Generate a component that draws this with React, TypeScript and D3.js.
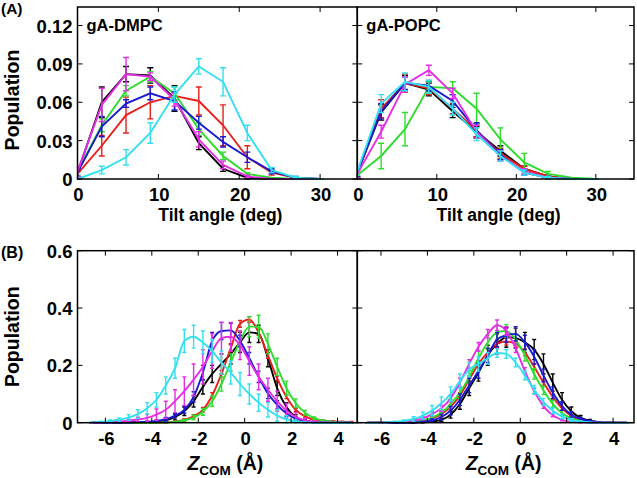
import React from "react";
import * as d3 from "d3";

// ---------- Data ----------
const tiltX = [0, 3, 6, 9, 12, 15, 18, 21, 24, 27, 30];

const dmpcTiltBlack = [0.005, 0.060, 0.082, 0.081, 0.063, 0.028, 0.008, 0.001, 0, 0, 0];
const dmpcTiltBlackErr = [0.003, 0.012, 0.006, 0.006, 0.010, 0.005, 0.002, 0.001, 0, 0, 0];
const dmpcTiltRed = [0.004, 0.026, 0.050, 0.060, 0.065, 0.061, 0.042, 0.017, 0.005, 0.001, 0];
const dmpcTiltRedErr = [0.002, 0.008, 0.014, 0.013, 0.003, 0.011, 0.016, 0.009, 0.002, 0, 0];
const dmpcTiltGreen = [0.006, 0.042, 0.069, 0.080, 0.067, 0.039, 0.018, 0.004, 0.001, 0, 0];
const dmpcTiltGreenErr = [0.003, 0.005, 0.004, 0.004, 0.005, 0.005, 0.003, 0.001, 0, 0, 0];
const dmpcTiltBlue = [0.005, 0.041, 0.059, 0.067, 0.061, 0.044, 0.029, 0.017, 0.006, 0.001, 0];
const dmpcTiltBlueErr = [0.003, 0.008, 0.003, 0.005, 0.007, 0.005, 0.004, 0.004, 0.002, 0.001, 0];
const dmpcTiltMagenta = [0.006, 0.058, 0.082, 0.080, 0.062, 0.031, 0.011, 0.002, 0, 0, 0];
const dmpcTiltMagentaErr = [0.004, 0.013, 0.013, 0.003, 0.005, 0.006, 0.003, 0.001, 0, 0, 0];
const dmpcTiltCyan = [0, 0.007, 0.017, 0.036, 0.066, 0.088, 0.076, 0.036, 0.007, 0.001, 0];
const dmpcTiltCyanErr = [0.001, 0.003, 0.006, 0.008, 0.006, 0.006, 0.011, 0.006, 0.002, 0.001, 0];

const popcTiltBlack = [0.005, 0.052, 0.075, 0.070, 0.053, 0.037, 0.022, 0.008, 0.002, 0, 0];
const popcTiltBlackErr = [0.003, 0.006, 0.006, 0.005, 0.005, 0.004, 0.004, 0.002, 0.001, 0, 0];
const popcTiltRed = [0.004, 0.055, 0.075, 0.071, 0.055, 0.038, 0.020, 0.008, 0.002, 0, 0];
const popcTiltRedErr = [0.003, 0.007, 0.007, 0.005, 0.004, 0.005, 0.004, 0.002, 0.001, 0, 0];
const popcTiltGreen = [0.003, 0.018, 0.039, 0.072, 0.071, 0.055, 0.031, 0.013, 0.004, 0.001, 0];
const popcTiltGreenErr = [0.002, 0.010, 0.013, 0.004, 0.005, 0.012, 0.009, 0.007, 0.002, 0, 0];
const popcTiltBlue = [0.005, 0.053, 0.075, 0.073, 0.061, 0.038, 0.019, 0.005, 0.001, 0, 0];
const popcTiltBlueErr = [0.003, 0.006, 0.005, 0.004, 0.005, 0.006, 0.004, 0.002, 0.001, 0, 0];
const popcTiltMagenta = [0.004, 0.037, 0.074, 0.085, 0.067, 0.037, 0.018, 0.006, 0.001, 0, 0];
const popcTiltMagentaErr = [0.003, 0.005, 0.006, 0.004, 0.004, 0.005, 0.004, 0.002, 0.001, 0, 0];
const popcTiltCyan = [0.006, 0.059, 0.076, 0.072, 0.055, 0.035, 0.018, 0.005, 0.001, 0, 0];
const popcTiltCyanErr = [0.003, 0.007, 0.007, 0.005, 0.005, 0.005, 0.004, 0.002, 0.001, 0, 0];

const zX = [-6.6, -6.2, -5.8, -5.4, -5.0, -4.6, -4.2, -3.8, -3.4, -3.0, -2.6, -2.2, -1.8, -1.4, -1.0,
  -0.6, -0.2, 0.2, 0.6, 1.0, 1.4, 1.8, 2.2, 2.6, 3.0, 3.4, 3.8, 4.2, 4.6];

const dmpcZBlack = [0, 0, 0, 0, 0, 0, 0.001, 0.003, 0.008, 0.020, 0.040, 0.075, 0.125, 0.170, 0.205, 0.240, 0.280, 0.315, 0.310, 0.225, 0.120, 0.055, 0.020, 0.007, 0.002, 0, 0, 0, 0];
const dmpcZBlackErr = [0, 0, 0, 0, 0, 0, 0.001, 0.002, 0.005, 0.010, 0.015, 0.020, 0.025, 0.030, 0.035, 0.035, 0.035, 0.035, 0.030, 0.030, 0.025, 0.015, 0.008, 0.004, 0.002, 0, 0, 0, 0];
const dmpcZRed = [0, 0, 0, 0, 0, 0, 0, 0, 0.001, 0.004, 0.010, 0.022, 0.045, 0.095, 0.170, 0.260, 0.345, 0.360, 0.315, 0.235, 0.155, 0.090, 0.045, 0.022, 0.010, 0.006, 0.004, 0.003, 0.002];
const dmpcZRedErr = [0, 0, 0, 0, 0, 0, 0, 0, 0.001, 0.002, 0.004, 0.006, 0.008, 0.010, 0.012, 0.012, 0.012, 0.010, 0.010, 0.010, 0.008, 0.006, 0.005, 0.004, 0.004, 0.003, 0.003, 0.002, 0.002];
const dmpcZGreen = [0, 0, 0, 0, 0, 0, 0, 0, 0.001, 0.003, 0.008, 0.018, 0.038, 0.075, 0.135, 0.210, 0.285, 0.335, 0.335, 0.275, 0.195, 0.120, 0.068, 0.035, 0.016, 0.007, 0.003, 0.001, 0];
const dmpcZGreenErr = [0, 0, 0, 0, 0, 0, 0, 0, 0.001, 0.002, 0.004, 0.008, 0.012, 0.018, 0.025, 0.030, 0.035, 0.035, 0.040, 0.035, 0.030, 0.025, 0.015, 0.008, 0.004, 0.002, 0.001, 0, 0];
const dmpcZBlue = [0, 0, 0, 0, 0.001, 0.002, 0.003, 0.006, 0.012, 0.025, 0.045, 0.090, 0.175, 0.285, 0.320, 0.322, 0.285, 0.225, 0.160, 0.102, 0.062, 0.032, 0.014, 0.006, 0.002, 0.001, 0, 0, 0];
const dmpcZBlueErr = [0, 0, 0, 0, 0.001, 0.001, 0.002, 0.004, 0.006, 0.008, 0.012, 0.018, 0.025, 0.030, 0.030, 0.025, 0.020, 0.020, 0.020, 0.018, 0.015, 0.010, 0.006, 0.003, 0.002, 0.001, 0, 0, 0];
const dmpcZMagenta = [0, 0.001, 0.002, 0.004, 0.007, 0.011, 0.017, 0.028, 0.045, 0.075, 0.110, 0.150, 0.195, 0.250, 0.295, 0.300, 0.270, 0.215, 0.160, 0.115, 0.075, 0.042, 0.020, 0.008, 0.003, 0.001, 0, 0, 0];
const dmpcZMagentaErr = [0, 0.001, 0.002, 0.003, 0.005, 0.008, 0.012, 0.020, 0.030, 0.040, 0.050, 0.055, 0.060, 0.060, 0.055, 0.050, 0.050, 0.050, 0.045, 0.040, 0.035, 0.025, 0.015, 0.008, 0.004, 0.001, 0, 0, 0];
const dmpcZCyan = [0.001, 0.003, 0.006, 0.011, 0.018, 0.030, 0.050, 0.080, 0.130, 0.190, 0.285, 0.300, 0.280, 0.250, 0.210, 0.175, 0.135, 0.100, 0.070, 0.045, 0.025, 0.012, 0.004, 0.001, 0, 0, 0, 0, 0];
const dmpcZCyanErr = [0.001, 0.002, 0.004, 0.006, 0.010, 0.015, 0.020, 0.025, 0.030, 0.035, 0.040, 0.040, 0.040, 0.040, 0.040, 0.040, 0.040, 0.035, 0.030, 0.025, 0.020, 0.012, 0.006, 0.002, 0, 0, 0, 0, 0];

const popcZBlack = [0, 0, 0, 0, 0, 0, 0.001, 0.004, 0.010, 0.028, 0.065, 0.120, 0.175, 0.235, 0.275, 0.298, 0.295, 0.280, 0.255, 0.205, 0.140, 0.080, 0.040, 0.017, 0.007, 0.002, 0, 0, 0];
const popcZBlackErr = [0, 0, 0, 0, 0, 0, 0.001, 0.003, 0.006, 0.012, 0.018, 0.025, 0.030, 0.035, 0.035, 0.035, 0.035, 0.035, 0.035, 0.035, 0.030, 0.025, 0.015, 0.008, 0.004, 0.001, 0, 0, 0];
const popcZRed = [0, 0, 0, 0, 0.001, 0.003, 0.007, 0.015, 0.030, 0.055, 0.095, 0.150, 0.205, 0.245, 0.275, 0.283, 0.275, 0.245, 0.195, 0.140, 0.090, 0.050, 0.024, 0.010, 0.004, 0.001, 0, 0, 0];
const popcZRedErr = [0, 0, 0, 0, 0.001, 0.002, 0.003, 0.005, 0.007, 0.009, 0.010, 0.012, 0.012, 0.012, 0.012, 0.012, 0.012, 0.012, 0.010, 0.010, 0.008, 0.006, 0.004, 0.003, 0.002, 0.001, 0, 0, 0];
const popcZGreen = [0, 0, 0, 0, 0.001, 0.003, 0.008, 0.018, 0.035, 0.065, 0.105, 0.160, 0.225, 0.280, 0.315, 0.320, 0.290, 0.235, 0.170, 0.113, 0.066, 0.034, 0.015, 0.006, 0.002, 0, 0, 0, 0];
const popcZGreenErr = [0, 0, 0, 0, 0.001, 0.002, 0.004, 0.008, 0.012, 0.016, 0.020, 0.022, 0.025, 0.025, 0.025, 0.022, 0.020, 0.020, 0.018, 0.015, 0.012, 0.008, 0.005, 0.003, 0.001, 0, 0, 0, 0];
const popcZBlue = [0, 0, 0, 0, 0, 0.001, 0.003, 0.008, 0.020, 0.042, 0.080, 0.130, 0.180, 0.235, 0.290, 0.305, 0.310, 0.280, 0.230, 0.165, 0.105, 0.058, 0.028, 0.013, 0.006, 0.002, 0.001, 0, 0];
const popcZBlueErr = [0, 0, 0, 0, 0, 0.001, 0.002, 0.005, 0.010, 0.015, 0.020, 0.025, 0.025, 0.025, 0.025, 0.025, 0.025, 0.025, 0.025, 0.022, 0.020, 0.015, 0.010, 0.005, 0.003, 0.001, 0.001, 0, 0];
const popcZMagenta = [0, 0, 0, 0.002, 0.004, 0.008, 0.015, 0.030, 0.050, 0.085, 0.140, 0.205, 0.265, 0.310, 0.340, 0.320, 0.260, 0.180, 0.110, 0.058, 0.026, 0.010, 0.003, 0.001, 0, 0, 0, 0, 0];
const popcZMagentaErr = [0, 0, 0, 0.001, 0.002, 0.003, 0.005, 0.008, 0.010, 0.012, 0.015, 0.015, 0.015, 0.015, 0.018, 0.015, 0.015, 0.012, 0.010, 0.008, 0.005, 0.003, 0.002, 0.001, 0, 0, 0, 0, 0];
const popcZCyan = [0, 0, 0.001, 0.003, 0.006, 0.013, 0.025, 0.042, 0.068, 0.100, 0.145, 0.185, 0.205, 0.225, 0.243, 0.240, 0.210, 0.165, 0.115, 0.073, 0.042, 0.022, 0.010, 0.004, 0.001, 0, 0, 0, 0];
const popcZCyanErr = [0, 0, 0.001, 0.002, 0.004, 0.008, 0.012, 0.018, 0.022, 0.025, 0.025, 0.025, 0.025, 0.020, 0.015, 0.015, 0.015, 0.015, 0.015, 0.012, 0.010, 0.008, 0.005, 0.002, 0.001, 0, 0, 0, 0];

const seriesColors = ["#000000", "#e8201c", "#2edc2e", "#1a1ad0", "#e52ee5", "#33e0f0"];

const tiltTicks = [0, 10, 20, 30];
const tiltYTicks = [0, 0.03, 0.06, 0.09, 0.12];
const tiltYLabels = ["0", "0.03", "0.06", "0.09", "0.12"];
const zTicks = [-6, -4, -2, 0, 2, 4];
const zYTicks = [0, 0.2, 0.4, 0.6];
const zYLabels = ["0", "0.2", "0.4", "0.6"];

type Series = { y: number[]; e: number[] };

const FONT = "'Liberation Sans', Arial, Helvetica, sans-serif";

function Panel(props: {
  x0: number; x1: number; y0: number; y1: number;
  xDomain: [number, number]; yDomain: [number, number];
  xs: number[]; series: Series[]; smooth: boolean;
  xTicks: number[]; yTicks: number[]; yLabels: string[] | null;
  title?: string; cap: number; lw: number;
}) {
  const { x0, x1, y0, y1, xDomain, yDomain, xs, series, smooth, xTicks, yTicks, yLabels, title, cap, lw } = props;
  const xs_ = d3.scaleLinear().domain(xDomain).range([x0, x1]);
  const ys_ = d3.scaleLinear().domain(yDomain).range([y1, y0]);
  const line = d3.line<number>()
    .x((_, i) => xs_(xs[i]))
    .y((v) => ys_(v))
    .curve(smooth ? d3.curveMonotoneX : d3.curveLinear);
  const tl = 5;
  const clipId = `clip-${Math.round(x0)}-${Math.round(y0)}`;
  return (
    <g>
      <defs>
        <clipPath id={clipId}>
          <rect x={x0} y={y0} width={x1 - x0} height={y1 - y0 + 2} />
        </clipPath>
      </defs>
      <g clipPath={`url(#${clipId})`}>
        {series.map((s, si) => (
          <g key={si}>
            <path d={line(s.y) || ""} fill="none" stroke={seriesColors[si]} strokeWidth={lw} />
            {s.y.map((v, i) => {
              const e = s.e[i];
              const cx = xs_(xs[i]);
              const ya = ys_(v + e);
              const yb = ys_(Math.max(0, v - e));
              return (
                <g key={i} stroke={seriesColors[si]} strokeWidth={1.4}>
                  <line x1={cx} x2={cx} y1={ya} y2={yb} />
                  <line x1={cx - cap} x2={cx + cap} y1={ya} y2={ya} />
                  <line x1={cx - cap} x2={cx + cap} y1={yb} y2={yb} />
                </g>
              );
            })}
          </g>
        ))}
      </g>
      {/* ticks */}
      <g stroke="#000" strokeWidth={1}>
        {xTicks.map((t) => (
          <g key={"xt" + t}>
            <line x1={xs_(t)} x2={xs_(t)} y1={y1} y2={y1 - tl} />
            <line x1={xs_(t)} x2={xs_(t)} y1={y0} y2={y0 + tl} />
          </g>
        ))}
        {yTicks.map((t) => (
          <g key={"yt" + t}>
            <line x1={x0} x2={x0 + tl} y1={ys_(t)} y2={ys_(t)} />
            <line x1={x1} x2={x1 - tl} y1={ys_(t)} y2={ys_(t)} />
          </g>
        ))}
      </g>
      <rect x={x0} y={y0} width={x1 - x0} height={y1 - y0} fill="none" stroke="#000" strokeWidth={1.5} />
      {/* tick labels */}
      <g fontFamily={FONT} fontWeight="bold" fontSize={18.5} fill="#000">
        {xTicks.map((t) => (
          <text key={"xl" + t} x={xs_(t) + 1} y={y1 + 22} textAnchor="middle">{t < 0 ? "-" + Math.abs(t) : String(t)}</text>
        ))}
        {yLabels && yTicks.map((t, i) => (
          <text key={"yl" + t} x={x0 - 5} y={ys_(t) + 7} textAnchor="end">{yLabels[i]}</text>
        ))}
      </g>
      {title && (
        <text x={x0 + 9} y={y0 + 24} fontFamily={FONT} fontWeight="bold" fontSize={16.5} fill="#000">{title}</text>
      )}
    </g>
  );
}

export default function App() {
  const L = 77.5, M = 357.3, R = 634;
  const tT = 7, tB = 179, bT = 250.7, bB = 422.7;
  const tiltDMPC: Series[] = [
    { y: dmpcTiltBlack, e: dmpcTiltBlackErr },
    { y: dmpcTiltRed, e: dmpcTiltRedErr },
    { y: dmpcTiltGreen, e: dmpcTiltGreenErr },
    { y: dmpcTiltBlue, e: dmpcTiltBlueErr },
    { y: dmpcTiltMagenta, e: dmpcTiltMagentaErr },
    { y: dmpcTiltCyan, e: dmpcTiltCyanErr },
  ];
  const tiltPOPC: Series[] = [
    { y: popcTiltBlack, e: popcTiltBlackErr },
    { y: popcTiltRed, e: popcTiltRedErr },
    { y: popcTiltGreen, e: popcTiltGreenErr },
    { y: popcTiltBlue, e: popcTiltBlueErr },
    { y: popcTiltMagenta, e: popcTiltMagentaErr },
    { y: popcTiltCyan, e: popcTiltCyanErr },
  ];
  const zDMPC: Series[] = [
    { y: dmpcZBlack, e: dmpcZBlackErr },
    { y: dmpcZRed, e: dmpcZRedErr },
    { y: dmpcZGreen, e: dmpcZGreenErr },
    { y: dmpcZBlue, e: dmpcZBlueErr },
    { y: dmpcZMagenta, e: dmpcZMagentaErr },
    { y: dmpcZCyan, e: dmpcZCyanErr },
  ];
  const zPOPC: Series[] = [
    { y: popcZBlack, e: popcZBlackErr },
    { y: popcZRed, e: popcZRedErr },
    { y: popcZGreen, e: popcZGreenErr },
    { y: popcZBlue, e: popcZBlueErr },
    { y: popcZMagenta, e: popcZMagentaErr },
    { y: popcZCyan, e: popcZCyanErr },
  ];
  const zTitle = (cx: number) => (
    <text x={cx} y={470} textAnchor="middle" fontFamily={FONT} fontWeight="bold" fontSize={19.5} fill="#000">
      <tspan fontStyle="italic">Z</tspan>
      <tspan fontSize={13.5} dy={5}>COM</tspan>
      <tspan dy={-5}> (Å)</tspan>
    </text>
  );
  return (
    <svg width={637} height={478} style={{ position: "absolute", left: 0, top: 0, background: "#fff" }}>
      <rect x={0} y={0} width={637} height={478} fill="#fff" />
      <Panel x0={L} x1={M} y0={tT} y1={tB} xDomain={[0, 34.6]} yDomain={[0, 0.1345]}
        xs={tiltX} series={tiltDMPC} smooth={false} xTicks={tiltTicks} yTicks={tiltYTicks}
        yLabels={tiltYLabels} title="gA-DMPC" cap={3} lw={1.9} />
      <Panel x0={M} x1={R} y0={tT} y1={tB} xDomain={[0, 34.8]} yDomain={[0, 0.1345]}
        xs={tiltX} series={tiltPOPC} smooth={false} xTicks={tiltTicks} yTicks={tiltYTicks}
        yLabels={null} title="gA-POPC" cap={3} lw={1.9} />
      <Panel x0={L} x1={M} y0={bT} y1={bB} xDomain={[-7.2, 4.85]} yDomain={[0, 0.6]}
        xs={zX} series={zDMPC} smooth={true} xTicks={zTicks} yTicks={zYTicks}
        yLabels={zYLabels} cap={2} lw={1.9} />
      <Panel x0={M} x1={R} y0={bT} y1={bB} xDomain={[-7.02, 4.9]} yDomain={[0, 0.6]}
        xs={zX} series={zPOPC} smooth={true} xTicks={zTicks} yTicks={zYTicks}
        yLabels={null} cap={2} lw={1.9} />
      <g fontFamily={FONT} fontWeight="bold" fill="#000">
        <text x={1} y={14} fontSize={15.5}>(A)</text>
        <text x={1} y={258} fontSize={16}>(B)</text>
        <text transform={`translate(19,${(tT + tB) / 2 + 7}) rotate(-90)`} textAnchor="middle" fontSize={19.5}>Population</text>
        <text transform={`translate(19,${(bT + bB) / 2}) rotate(-90)`} textAnchor="middle" fontSize={19.5}>Population</text>
        <text x={(L + M) / 2 + 3} y={221} textAnchor="middle" fontSize={17.5}>Tilt angle (deg)</text>
        <text x={(M + R) / 2 + 3} y={221} textAnchor="middle" fontSize={17.5}>Tilt angle (deg)</text>
      </g>
      {zTitle((L + M) / 2 + 8)}
      {zTitle((M + R) / 2 + 8)}
    </svg>
  );
}
